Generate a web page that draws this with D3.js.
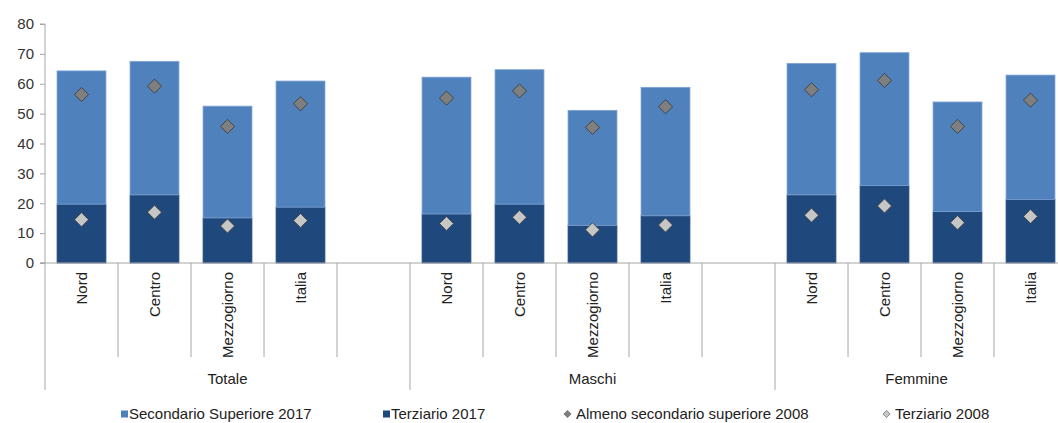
<!DOCTYPE html>
<html>
<head>
<meta charset="utf-8">
<script src="https://cdnjs.cloudflare.com/ajax/libs/d3/7.8.5/d3.min.js"></script>
<style>
  body { margin: 0; background: #fff; }
  svg { display: block; font-family: "Liberation Sans", Arial, sans-serif; }
  .tick text { fill: #333; }
</style>
</head>
<body>
<script>
var groups = ["Totale", "Maschi", "Femmine"];
var areas = ["Nord", "Centro", "Mezzogiorno", "Italia"];

// values per group, in the order of areas
var terziario2017 = [19.7, 22.8, 15.1, 18.7,  16.4, 19.7, 12.6, 15.8,  22.8, 25.9, 17.2, 21.3];
var secondario2017 = [44.6, 44.7, 37.4, 42.2,  45.8, 45.0, 38.5, 43.0,  44.0, 44.5, 36.7, 41.6];
var almeno2008 = [56.4, 59.2, 45.7, 53.3,  55.2, 57.6, 45.4, 52.3,  58.0, 61.1, 45.7, 54.5];
var terziario2008 = [14.5, 17.0, 12.4, 14.2,  13.2, 15.3, 11.1, 12.7,  16.0, 19.1, 13.5, 15.6];
var yTicks = [0, 10, 20, 30, 40, 50, 60, 70, 80];

var width = 1058, height = 423;
var left = 45, y0 = 263, yTop = 24;
var slot = 73;

// one slot per area plus an empty slot between groups
var slots = [];
groups.forEach(function(g, gi) {
  areas.forEach(function(a) { slots.push(g + "|" + a); });
  if (gi < groups.length - 1) slots.push(g + "|blank");
});

var rows = [];
groups.forEach(function(g, gi) {
  areas.forEach(function(a, ai) {
    var k = gi * areas.length + ai;
    rows.push({key: g + "|" + a, group: g, area: a,
      terz: terziario2017[k], sec: secondario2017[k],
      alm: almeno2008[k], terz08: terziario2008[k]});
  });
});

var x = d3.scaleBand()
    .domain(slots)
    .range([left, left + slot * slots.length])
    .paddingInner(0.33)
    .paddingOuter(0.165);

var y = d3.scaleLinear()
    .domain([0, 80])
    .range([y0, yTop]);

var svg = d3.select("body").append("svg")
    .attr("width", width)
    .attr("height", height);

// y axis
var yAxis = d3.axisLeft(y)
    .tickValues(yTicks)
    .tickSize(5)
    .tickPadding(6);

var gy = svg.append("g")
    .attr("transform", "translate(" + left + ",0)")
    .call(yAxis);
gy.selectAll("path, line").attr("stroke", "#a6a6a6");
gy.select(".domain").attr("d", "M-5," + y(80) + "H0V" + y(0) + "H-5");
gy.selectAll("text").style("font-size", "15px").attr("fill", "#333");

// bars
var bars = svg.append("g");
bars.selectAll("rect.terz")
    .data(rows)
  .enter().append("rect")
    .attr("class", "terz")
    .attr("x", function(d) { return x(d.key); })
    .attr("width", x.bandwidth())
    .attr("y", function(d) { return y(d.terz); })
    .attr("height", function(d) { return y(0) - y(d.terz); })
    .attr("fill", "#1f497d")
    .attr("stroke", "#2c5287")
    .attr("stroke-width", 0.8);

bars.selectAll("rect.sec")
    .data(rows)
  .enter().append("rect")
    .attr("class", "sec")
    .attr("x", function(d) { return x(d.key); })
    .attr("width", x.bandwidth())
    .attr("y", function(d) { return y(d.terz + d.sec); })
    .attr("height", function(d) { return y(d.terz) - y(d.terz + d.sec); })
    .attr("fill", "#4f81bd")
    .attr("stroke", "#7fa3d3")
    .attr("stroke-width", 0.8);

// diamonds
var diamond = d3.symbol().type(d3.symbolSquare).size(100);
function diamonds(field, fill) {
  svg.append("g").selectAll("path")
      .data(rows)
    .enter().append("path")
      .attr("d", diamond)
      .attr("transform", function(d) {
        return "translate(" + (x(d.key) + x.bandwidth() / 2) + "," + y(d[field]) + ") rotate(45)";
      })
      .attr("fill", fill)
      .attr("stroke", "#3a3a3a")
      .attr("stroke-width", 0.8);
}
diamonds("alm", "#7f7f7f");
diamonds("terz08", "#c6c6c6");

// x axis: baseline, separators, labels
var xa = svg.append("g");
xa.append("line")
    .attr("x1", left - 5).attr("x2", width)
    .attr("y1", y0).attr("y2", y0)
    .attr("stroke", "#a6a6a6");

var step = x.step();
xa.selectAll("line.sep")
    .data(slots)
  .enter().append("line")
    .attr("class", "sep")
    .attr("x1", function(d, i) { return left + i * step; })
    .attr("x2", function(d, i) { return left + i * step; })
    .attr("y1", y0)
    .attr("y2", function(d, i) { return i % 5 === 0 ? 390 : 357; })
    .attr("stroke", "#a6a6a6");

xa.selectAll("text.cat")
    .data(rows)
  .enter().append("text")
    .attr("class", "cat")
    .attr("transform", function(d) {
      return "translate(" + (x(d.key) + x.bandwidth() / 2) + ",272) rotate(-90)";
    })
    .attr("dy", "0.35em")
    .attr("text-anchor", "end")
    .attr("fill", "#222")
    .style("font-size", "15px")
    .text(function(d) { return d.area; });

xa.selectAll("text.grp")
    .data(groups)
  .enter().append("text")
    .attr("class", "grp")
    .attr("x", function(d, i) {
      var a = left + i * 5 * step, b = Math.min(a + 5 * step, width);
      if (i === groups.length - 1) b = Math.min(a + 4 * step, width);
      return (a + b) / 2;
    })
    .attr("y", 384)
    .attr("text-anchor", "middle")
    .attr("fill", "#222")
    .style("font-size", "15px")
    .text(function(d) { return d; });

// legend
var legendItems = [
  {label: "Secondario Superiore 2017", shape: "rect", fill: "#4f81bd", x: 121},
  {label: "Terziario 2017", shape: "rect", fill: "#1f497d", x: 383},
  {label: "Almeno secondario superiore 2008", shape: "diamond", fill: "#7f7f7f", x: 564},
  {label: "Terziario 2008", shape: "diamond", fill: "#c6c6c6", x: 883}
];
var legend = svg.selectAll("g.legend")
    .data(legendItems)
  .enter().append("g")
    .attr("class", "legend")
    .attr("transform", function(d) { return "translate(" + d.x + ",414)"; });

legend.filter(function(d) { return d.shape === "rect"; })
  .append("rect")
    .attr("x", 0).attr("y", -3.5)
    .attr("width", 7).attr("height", 7)
    .attr("fill", function(d) { return d.fill; });

legend.filter(function(d) { return d.shape === "diamond"; })
  .append("path")
    .attr("d", d3.symbol().type(d3.symbolSquare).size(26))
    .attr("transform", "translate(3.5,0) rotate(45)")
    .attr("fill", function(d) { return d.fill; })
    .attr("stroke", "#555")
    .attr("stroke-width", 0.6);

legend.append("text")
    .attr("x", function(d) { return d.shape === "rect" ? 8 : 12; })
    .attr("dy", "0.35em")
    .attr("fill", "#222")
    .style("font-size", "15px")
    .text(function(d) { return d.label; });
</script>
</body>
</html>
